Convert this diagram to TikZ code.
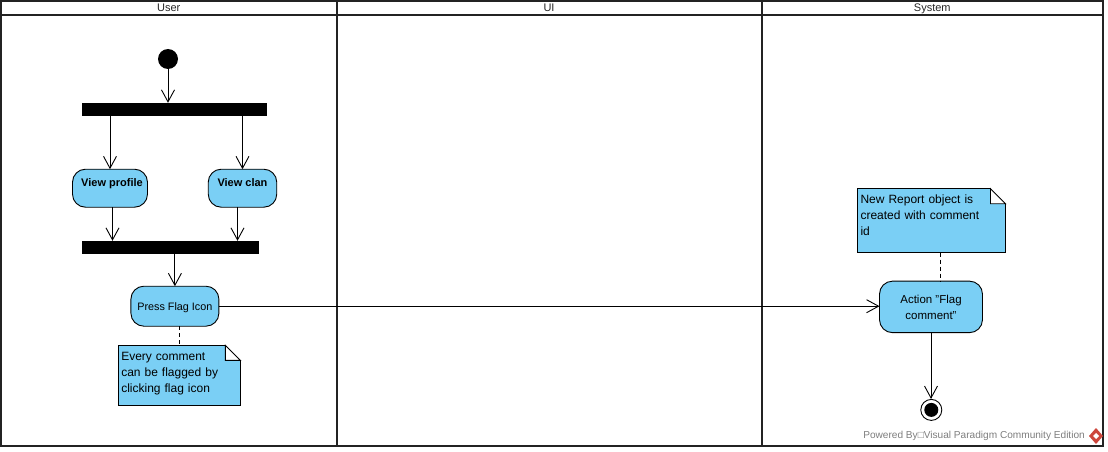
\documentclass[tikz,border=0pt]{standalone}
\usepackage{fontspec}
\setmainfont{Liberation Sans}
\usetikzlibrary{arrows.meta,calc}
\definecolor{actionBlue}{RGB}{122,207,245}
\definecolor{laneLine}{RGB}{35,35,35}
\definecolor{markGray}{RGB}{125,125,125}
\definecolor{markRed}{RGB}{205,70,60}
\tikzset{%
  >={Straight Barb[width=13pt,length=12pt]},
  % Specifications for style of nodes:
            base/.style = {rectangle, draw=black, line width=0.9pt, fill=actionBlue,
                           inner sep=0pt, outer sep=0pt, text centered, align=center},
          action/.style = {base, rounded corners=13pt, font=\fontsize{10.8}{16}\selectfont},
     actionBold/.style = {action, font=\fontsize{11}{15}\selectfont\bfseries,
                           text height=17pt, text depth=21pt},
          syncBar/.style = {rectangle, fill=black, minimum height=13pt, inner sep=0pt},
        noteBox/.style = {base, align=left, inner xsep=3pt, text height=15pt,
                           font=\fontsize{12}{16}\selectfont},
           laneBox/.style = {rectangle, draw=laneLine, line width=2pt, anchor=north west,
                           inner sep=0pt, outer sep=0pt},
       laneTitle/.style = {font=\fontsize{11}{13}\selectfont, text=black!85,
                           text height=7pt, text depth=3pt, yshift=-1.5pt},
            flow/.style = {->, line width=0.9pt},
        noteLink/.style = {line width=0.9pt, dash pattern=on 4pt off 3pt},
                       }
\begin{document}
\begin{tikzpicture}[x=1pt, y=-1pt]
  \useasboundingbox (0,0) rectangle (1108,452);
  % Swimlanes
  \foreach \laneName/\laneX/\laneW in {User/1/335.5, UI/336.5/425, System/761.5/341.5} {
    \node (head\laneName) [laneBox, minimum width=\laneW pt, minimum height=14pt]
      at (\laneX,1) {};
    \node (lane\laneName) [laneBox, minimum width=\laneW pt, minimum height=431pt]
      at (\laneX,15) {};
    \node [laneTitle] at (head\laneName.center) {\laneName};
  }

  % Specification of nodes (position, etc.)
  \node (startNode)  [circle, fill=black, minimum size=20pt, inner sep=0pt] at (168,59) {};
  \node (forkBar)    [syncBar, minimum width=185pt, below of=startNode, node distance=50.5pt,
                      xshift=6.5pt] {};
  \node (viewProfile) [actionBold, minimum width=75pt, below of=forkBar, node distance=78.7pt,
                      xshift=-64.5pt] {\hspace{4pt}View profile};
  \node (viewClan)   [actionBold, minimum width=68.5pt, below of=forkBar, node distance=78.7pt,
                      xshift=68pt] {View clan};
  \node (joinBar)    [syncBar, minimum width=177pt, below of=forkBar, node distance=138pt,
                      xshift=-4pt] {};
  \node (pressFlag)  [action, minimum width=88pt, text height=24pt, text depth=16pt, below of=joinBar,
                      node distance=58.7pt, xshift=4.4pt] {Press Flag Icon};
  \node (flagNote)   [noteBox, text width=116pt, text depth=45pt, below of=pressFlag,
                      node distance=69.2pt, xshift=4.4pt]
                     {Every comment\\can be flagged by\\clicking flag icon};
  \node (flagAction) [action, font=\fontsize{11.5}{16}\selectfont, minimum width=103pt,
                      minimum height=51.5pt, right of=pressFlag, node distance=756.1pt,
                      yshift=-0.7pt] {Action "Flag\\comment"};
  \node (reportNote) [noteBox, text width=142pt, text height=14.5pt, text depth=49.5pt,
                      above of=flagAction, node distance=86.2pt, xshift=0.5pt]
                     {New Report object is\\created with comment\\id};
  \node (endNode)    [circle, draw=black, line width=0.9pt, fill=white, minimum size=21pt,
                      inner sep=0pt, below of=flagAction, node distance=103pt, xshift=0.3pt] {};
  \node (endDot)     [circle, fill=black, minimum size=14pt, inner sep=0pt] at (endNode) {};

  % Folded corners of the notes
  \foreach \noteName in {flagNote, reportNote} {
    \fill[white] ($(\noteName.north east)+(-15,-1)$) rectangle ($(\noteName.north east)+(1,15)$);
    \draw[line width=0.9pt, fill=white] ($(\noteName.north east)+(-15,0)$)
      -- ($(\noteName.north east)+(0,15)$) -- ($(\noteName.north east)+(-15,15)$) -- cycle;
  }

  % Specification of lines between nodes specified above
  \draw[flow] (startNode) -- (startNode |- forkBar.north);
  \draw[flow] (viewProfile.north |- forkBar.south) -- (viewProfile.north);
  \draw[flow] (viewClan.north |- forkBar.south) -- (viewClan.north);
  \draw[flow] ([xshift=2.5pt]viewProfile.south) -- ([xshift=2.5pt]viewProfile.south |- joinBar.north);
  \draw[flow] ([xshift=-5pt]viewClan.south) -- ([xshift=-5pt]viewClan.south |- joinBar.north);
  \draw[flow] (pressFlag.north |- joinBar.south) -- (pressFlag.north);
  \draw[flow] (pressFlag.east) -- (pressFlag.east -| flagAction.west);
  \draw[flow] (flagAction.south) -- (flagAction.south |- endNode.north);
  \draw[noteLink] (pressFlag.south -| flagNote.north) -- (flagNote.north);
  \draw[noteLink] ([xshift=8.5pt]reportNote.south) -- ([xshift=8.5pt]reportNote.south |- flagAction.north);

  % Edition mark
  \node (poweredBy) [anchor=east, inner sep=0pt, text=markGray, font=\fontsize{10.1}{12}\selectfont]
    at (1085,436) {Powered By□Visual Paradigm Community Edition};
  \fill[markRed] (1096,428) -- (1103,436) -- (1096,444) -- (1089,436) -- cycle;
  \fill[white] (1096,433) -- (1099,436) -- (1096,439) -- (1093,436) -- cycle;
\end{tikzpicture}
\end{document}
